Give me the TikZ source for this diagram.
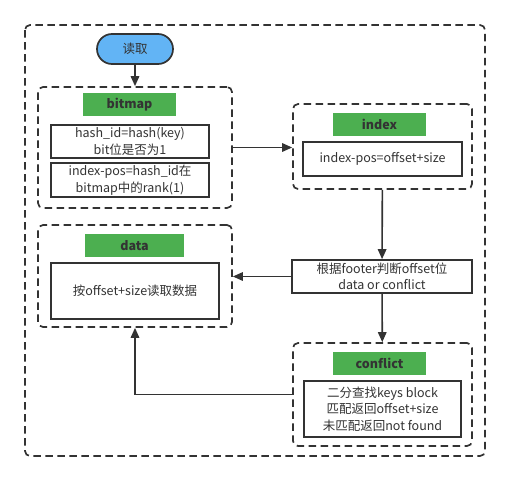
\documentclass[tikz,border=0pt]{standalone}
\usepackage{fontspec}
\setmainfont{Noto Sans CJK SC}
\usetikzlibrary{arrows.meta}
\definecolor{linegray}{HTML}{333333}
\definecolor{tagGreen}{HTML}{4CAF50}
\definecolor{startBlue}{HTML}{62B4F5}

\begin{document}
\begin{tikzpicture}[x=1pt,y=-1pt,
    every node/.style={text=linegray,font=\fontsize{12.5}{16.5}\selectfont,align=center,inner sep=0pt},
    group/.style={draw=linegray,line width=1.7pt,dash pattern=on 7.5pt off 4.5pt,rounded corners=5pt},
    tag/.style={fill=tagGreen,minimum width=93pt,minimum height=23pt,font=\fontsize{12.5}{16.5}\selectfont\bfseries},
    textbox/.style={draw=linegray,line width=1.7pt,fill=white},
    flow/.style={draw=linegray,line width=1.6pt,-{Triangle[length=10pt,width=8.5pt]}}]
    \useasboundingbox (0,0) rectangle (510,482);

    % Outer frame
    \draw[group] (25,25) rectangle (485,456);

    % Start
    \node[draw=linegray,line width=1.7pt,fill=startBlue,rounded corners=15pt,minimum width=76pt,minimum height=30pt] (read) at (135,49) {读取};

    % bitmap group
    \node[group,minimum width=194pt,minimum height=121pt] (bitmapgrp) at (135,147.5) {};
    \node[tag] (bitmaptag) at (129.5,104.5) {bitmap};
    \node[textbox,minimum width=158pt,minimum height=33pt] (hashbox) at (130,141.5) {hash\_id=hash(key)\\bit位是否为1};
    \node[textbox,minimum width=158pt,minimum height=34pt] (rankbox) at (130,180) {index{-}pos=hash\_id在\\bitmap中的rank(1)};

    % index group
    \node[group,minimum width=179pt,minimum height=85pt] (indexgrp) at (382.5,146.5) {};
    \node[tag] (indextag) at (379.5,124.5) {index};
    \node[textbox,minimum width=159pt,minimum height=34pt] (indexbox) at (382.5,159) {index{-}pos=offset+size};

    % footer check
    \node[textbox,minimum width=180pt,minimum height=33pt] (footer) at (382,276.5) {根据footer判断offset位\\data or conflict};

    % data group
    \node[group,minimum width=194pt,minimum height=102pt] (datagrp) at (135,276) {};
    \node[tag,minimum width=99pt] (datatag) at (134.5,245.5) {data};
    \node[textbox,minimum width=168pt,minimum height=56pt] (databox) at (135,291) {按offset+size读取数据};

    % conflict group
    \node[group,minimum width=179pt,minimum height=103pt] (conflictgrp) at (382.5,394.5) {};
    \node[tag] (conflicttag) at (379.5,363.5) {conflict};
    \node[textbox,minimum width=157pt,minimum height=56pt] (conflictbox) at (382.5,409) {二分查找keys block\\匹配返回offset+size\\未匹配返回not found};

    % Connectors
    \draw[flow] (read) -- (bitmapgrp);
    \draw[flow] (bitmapgrp.east) -- (bitmapgrp.east -| indexgrp.west);
    \draw[flow] (indexgrp) -- (footer);
    \draw[flow] (footer) -- (footer -| datagrp.east);
    \draw[flow] (footer) -- (conflictgrp);
    \draw[flow] (conflictgrp.west) -| (datagrp.south);
\end{tikzpicture}
\end{document}
